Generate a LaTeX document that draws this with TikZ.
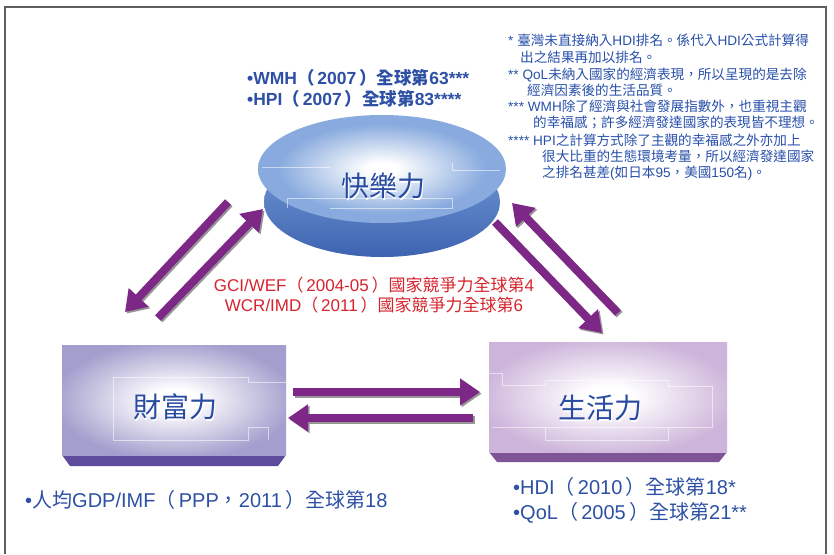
\documentclass[tikz,border=0pt]{standalone}
\usepackage{fontspec}
\setmainfont{Liberation Sans}
\newfontfamily\cjk{Noto Sans CJK TC}
\usetikzlibrary{arrows.meta}
\newcommand\CJ[1]{{\cjk #1}}
\definecolor{framegray}{RGB}{95,95,95}
\definecolor{lblblue}{RGB}{40,75,160}
\definecolor{txtblue}{RGB}{45,80,165}
\definecolor{noteblue}{RGB}{40,80,170}
\definecolor{redtxt}{RGB}{215,35,45}
\definecolor{apurple}{RGB}{125,40,135}
\definecolor{ashadow}{RGB}{150,150,150}
\definecolor{ellblue}{RGB}{136,170,222}
\definecolor{rimtop}{RGB}{120,158,215}
\definecolor{rimbot}{RGB}{62,100,178}
\definecolor{faceA}{RGB}{163,158,205}
\definecolor{baseA}{RGB}{95,75,155}
\definecolor{faceB}{RGB}{205,180,218}
\definecolor{baseB}{RGB}{125,85,150}
\pgfdeclareradialshading{glowA}{\pgfpoint{0bp}{0bp}}{color(0bp)=(white); color(5bp)=(white); color(27bp)=(faceA); color(50bp)=(faceA)}
\pgfdeclareradialshading{glowB}{\pgfpoint{0bp}{0bp}}{color(0bp)=(white); color(5bp)=(white); color(27bp)=(faceB); color(50bp)=(faceB)}
\pgfdeclareradialshading{glowE}{\pgfpoint{0bp}{0bp}}{color(0bp)=(white); color(3bp)=(white); color(21bp)=(ellblue); color(50bp)=(ellblue)}
\begin{document}
\begin{tikzpicture}[x=1pt,y=-1pt,
  parrow/.style={line width=8pt, draw=apurple, -{Triangle[length=20pt,width=26pt]}},
  pshadow/.style={line width=8pt, draw=ashadow, -{Triangle[length=20pt,width=26pt]}, transform canvas={shift={(1.6pt,-1.6pt)}}},
  lbl/.style={font=\cjk\fontsize{28}{32}\selectfont, text=lblblue, inner sep=0pt},
  lblsh/.style={font=\cjk\fontsize{28}{32}\selectfont, text=white, inner sep=0pt},
  ranktxt/.style={font=\fontsize{20}{24}\selectfont, text=txtblue, inner sep=0pt, anchor=base west},
  redline/.style={font=\fontsize{17}{20}\selectfont, text=redtxt, inner sep=0pt, anchor=base},
  note/.style={font=\fontsize{13.6}{16}\selectfont, text=noteblue, inner sep=0pt, anchor=base west},
  deco/.style={draw=white, opacity=0.55, line width=0.6pt}
]
\useasboundingbox (0,0) rectangle (834,554);
\fill[white] (0,0) rectangle (834,554);
% frame
\draw[framegray, line width=1.2pt] (5,554) -- (5,7) -- (826,7) -- (826,554);

% ellipse (happiness)
\shade[top color=rimtop, bottom color=rimbot] (382,202) ellipse [x radius=118, y radius=55];
\shade[shading=glowE] (382,169) ellipse [x radius=124, y radius=54];
\draw[deco] (262,167) -- (330,167);
\draw[deco] (452,163) -- (452,170) -- (500,170);
\draw[deco] (287,208) -- (287,198) -- (452,198) -- (452,208) -- (330,208);

% box wealth
\fill[baseA] (62,455) -- (286,455) -- (278,466) -- (70,466) -- cycle;
\shade[shading=glowA] (62,345) rectangle (286,455);
\draw[deco] (113,440) -- (113,377) -- (248,377) -- (248,382) -- (286,382);
\draw[deco] (113,440) -- (248,440) -- (248,427) -- (268,427) -- (268,440);

% box life
\fill[baseB] (489,452) -- (727,452) -- (719,462) -- (497,462) -- cycle;
\shade[shading=glowB] (489,342) rectangle (727,452);
\draw[deco] (489,373) -- (502,373) -- (502,385) -- (545,385) -- (545,380) -- (668,380) -- (668,386) -- (712,386) -- (712,427) -- (492,427);
\draw[deco] (545,427) -- (545,440) -- (668,440) -- (668,427);

% labels
\node[lblsh] at (384.5,187.5) {快樂力};
\node[lbl] (happy) at (383,186) {快樂力};
\node[lblsh] at (176.5,408.5) {財富力};
\node[lbl] (wealth) at (175,407) {財富力};
\node[lblsh] at (601.5,409.5) {生活力};
\node[lbl] (life) at (600,408) {生活力};

% arrow end points
\coordinate (a1s) at (228,202); \coordinate (a1e) at (125,312);
\coordinate (a2s) at (158,318); \coordinate (a2e) at (263,209);
\coordinate (a3s) at (618,313); \coordinate (a3e) at (512,203);
\coordinate (a4s) at (495,222); \coordinate (a4e) at (602,333);
\coordinate (a5s) at (293,392); \coordinate (a5e) at (480,392);
\coordinate (a6s) at (473,418); \coordinate (a6e) at (288,418);
\foreach \s/\e in {a1s/a1e,a2s/a2e,a3s/a3e,a4s/a4e,a5s/a5e,a6s/a6e}{
  \draw[pshadow] (\s) -- (\e);
}
\foreach \s/\e in {a1s/a1e,a2s/a2e,a3s/a3e,a4s/a4e,a5s/a5e,a6s/a6e}{
  \draw[parrow] (\s) -- (\e);
}

% happiness ranks
\node[ranktxt, font=\bfseries\fontsize{17.5}{20}\selectfont] (wmh) at (247,84) {•WMH\CJ{\bfseries（}\,2007\,\CJ{\bfseries）全球第}63***};
\node[ranktxt, font=\bfseries\fontsize{17.5}{20}\selectfont] (hpi) at (247,105) {•HPI\CJ{\bfseries（}\,2007\,\CJ{\bfseries）全球第}83****};

% competitiveness
\node[redline] (gci) at (374,291) {GCI/WEF\CJ{（}\,2004-05\,\CJ{）國家競爭力全球第}4};
\node[redline] (wcr) at (374,311) {WCR/IMD\CJ{（}\,2011\,\CJ{）國家競爭力全球第}6};

% wealth rank
\node[ranktxt] (gdp) at (25,507) {•\CJ{人均}GDP/IMF\CJ{（}\,PPP\CJ{，}2011\,\CJ{）全球第}18};

% life ranks
\node[ranktxt] (hdi) at (513,494) {•HDI\CJ{（}\,2010\,\CJ{）全球第}18*};
\node[ranktxt] (qol) at (513,519) {•QoL\CJ{（}\,2005\,\CJ{）全球第}21**};

% notes
\node[note] (n1) at (508,45) {* \CJ{臺灣未直接納入}HDI\CJ{排名。係代入}HDI\CJ{公式計算得}};
\node[note] (n2) at (520,62) {\CJ{出之結果再加以排名。}};
\node[note] (n3) at (508,79) {** QoL\CJ{未納入國家的經濟表現，所以呈現的是去除}};
\node[note] (n4) at (527,95) {\CJ{經濟因素後的生活品質。}};
\node[note] (n5) at (508,111) {*** WMH\CJ{除了經濟與社會發展指數外，也重視主觀}};
\node[note] (n6) at (533,127) {\CJ{的幸福感；許多經濟發達國家的表現皆不理想。}};
\node[note] (n7) at (508,145) {**** HPI\CJ{之計算方式除了主觀的幸福感之外亦加上}};
\node[note] (n8) at (542,161) {\CJ{很大比重的生態環境考量，所以經濟發達國家}};
\node[note] (n9) at (542,177) {\CJ{之排名甚差}(\CJ{如日本}95\CJ{，美國}150\CJ{名})\CJ{。}};
\end{tikzpicture}
\end{document}
